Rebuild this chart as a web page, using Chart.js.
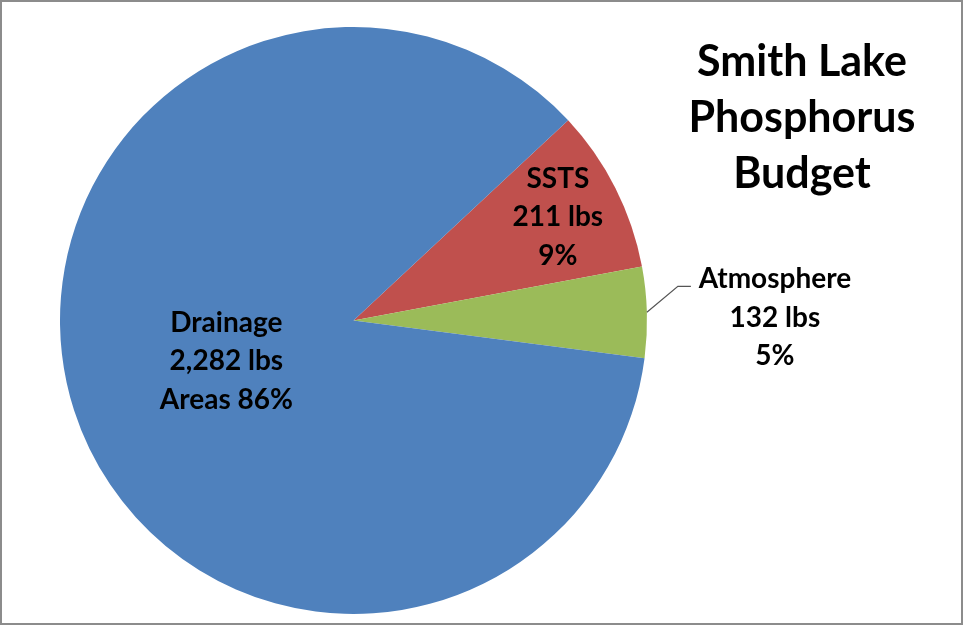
<!DOCTYPE html>
<html>
<head>
<meta charset="utf-8">
<title>Smith Lake Phosphorus Budget</title>
<script src="https://cdn.jsdelivr.net/npm/chart.js@4.4.1/dist/chart.umd.min.js"></script>
<style>
    body { margin: 0; background: #fff; }
    canvas { display: block; }
</style>
</head>
<body>
<canvas id="budgetChart" width="963" height="625"></canvas>
<script>
// Phosphorus sources, in the order they go round the pie
const categories = ['SSTS', 'Atmosphere', 'Drainage Areas'];
const pounds = [211, 132, 2282];      // lbs per year
const shares = [9, 5, 86];            // percent of total, as labelled
const sliceColors = ['#C0504D', '#9BBB59', '#4F81BD'];
const titleLines = ['Smith Lake', 'Phosphorus', 'Budget'];

const FONT = "Lato, 'Open Sans', sans-serif";

// "Drainage Areas" wraps as Drainage / 2,282 lbs / Areas 86%, like the original
function labelLines(i) {
    const words = categories[i].split(' ');
    const pct = shares[i] + '%';
    return [
        words[0],
        pounds[i].toLocaleString('en-US') + ' lbs',
        words.slice(1).concat(pct).join(' ')
    ];
}

// Frame, title and data labels drawn on top of the pie
const decorPlugin = {
    id: 'decor',
    afterDraw(chart) {
        const ctx = chart.ctx;
        ctx.save();

        // grey chart frame
        ctx.strokeStyle = '#8c8c8c';
        ctx.lineWidth = 2;
        ctx.strokeRect(1, 1, chart.width - 2, chart.height - 2);

        ctx.fillStyle = '#000';
        ctx.textAlign = 'center';
        ctx.textBaseline = 'middle';

        // title on the right
        ctx.font = 'bold 43px ' + FONT;
        titleLines.forEach((t, k) => ctx.fillText(t, 802, 62 + k * 56));

        // data labels
        ctx.font = 'bold 28px ' + FONT;
        const arcs = chart.getDatasetMeta(0).data;
        const lineH = 38.5;
        arcs.forEach((arc, i) => {
            const mid = (arc.startAngle + arc.endAngle) / 2;
            const R = arc.outerRadius;
            const lines = labelLines(i);
            let cx, cy;
            if (categories[i] === 'Atmosphere') {
                // outside label with a leader line
                const ex = arc.x + Math.cos(mid) * R;
                const ey = arc.y + Math.sin(mid) * R;
                const bx = ex + 31, by = ey - 26;
                ctx.strokeStyle = '#555';
                ctx.lineWidth = 1.2;
                ctx.beginPath();
                ctx.moveTo(ex, ey);
                ctx.lineTo(bx, by);
                ctx.lineTo(bx + 13, by);
                ctx.stroke();
                cx = bx + 97;
                cy = by - 7 + lineH;
            } else {
                const f = categories[i] === 'SSTS' ? 0.78 : 0.455;
                cx = arc.x + Math.cos(mid) * R * f;
                cy = arc.y + Math.sin(mid) * R * f;
            }
            lines.forEach((t, k) => ctx.fillText(t, cx, cy + (k - 1) * lineH));
        });
        ctx.restore();
    }
};

const config = {
    type: 'pie',
    data: {
        labels: categories,
        datasets: [{
            data: shares,
            backgroundColor: sliceColors,
            borderWidth: 0
        }]
    },
    options: {
        responsive: false,
        animation: false,
        rotation: 47,
        layout: {
            padding: { left: 60, right: 316, top: 27, bottom: 11 }
        },
        plugins: {
            legend: { display: false },
            tooltip: { enabled: false }
        }
    },
    plugins: [decorPlugin]
};

const chartContext = document.getElementById('budgetChart').getContext('2d');
const budgetChart = new Chart(chartContext, config);
</script>
</body>
</html>
